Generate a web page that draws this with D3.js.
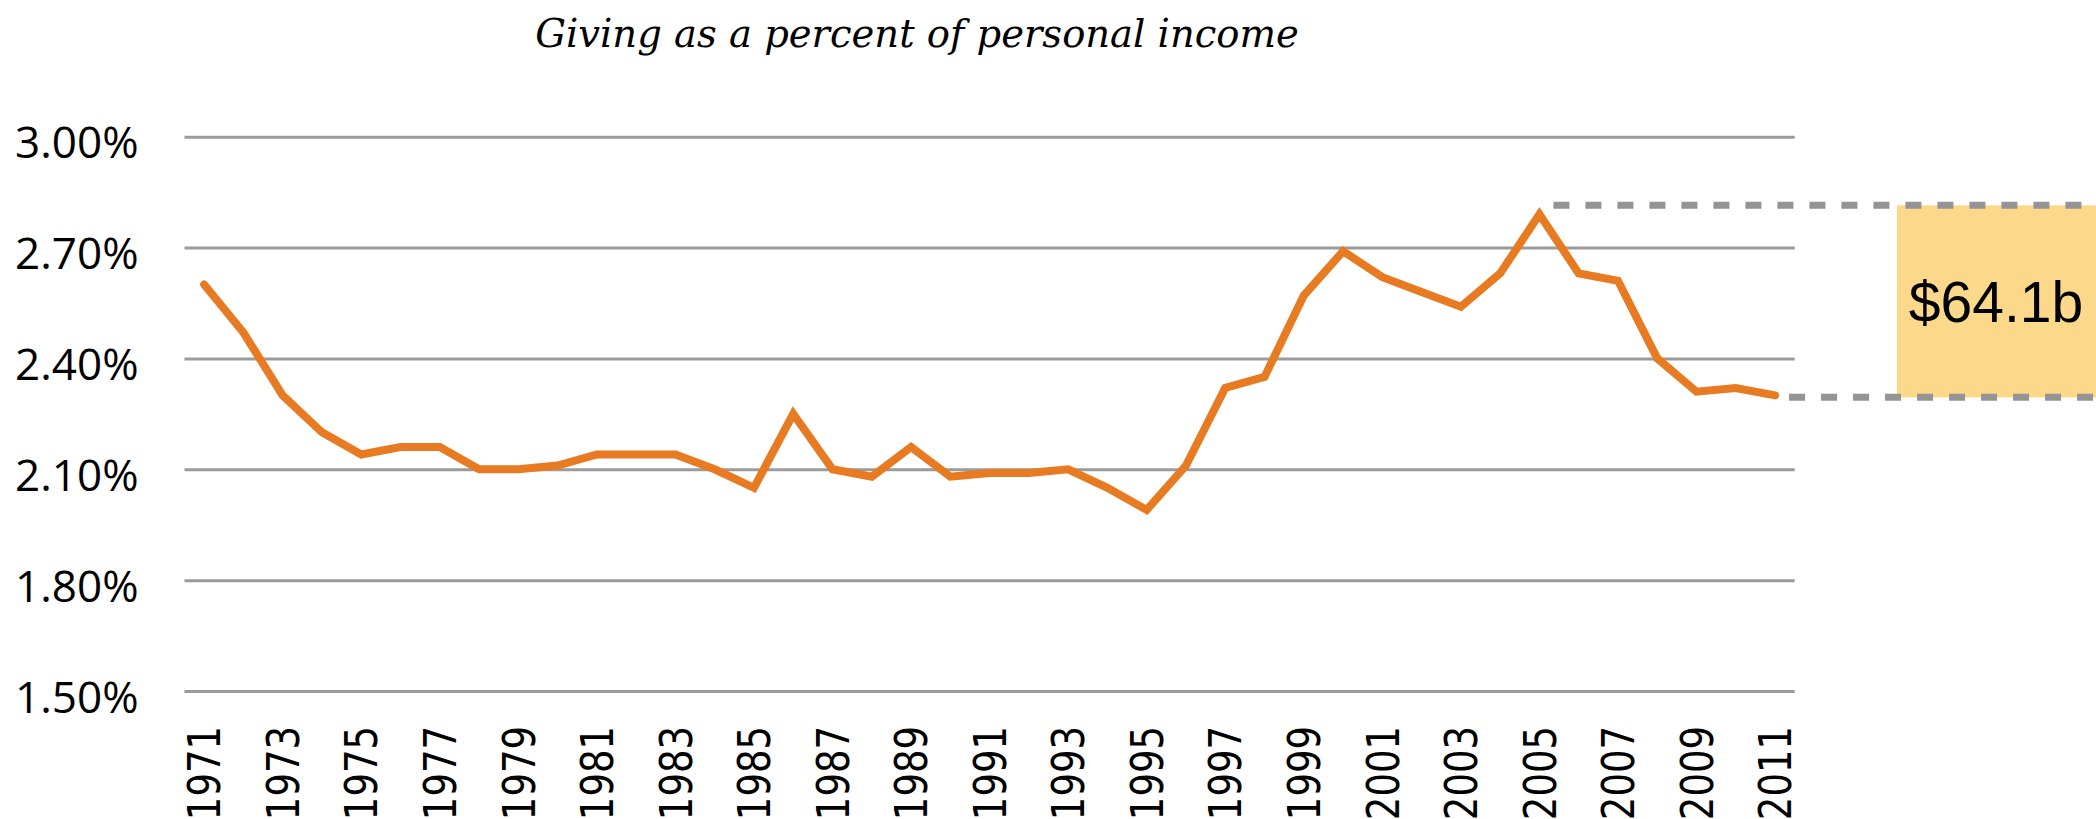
<!DOCTYPE html>
<html>
<head>
<meta charset="utf-8">
<script src="https://cdn.jsdelivr.net/npm/d3@7"></script>
<style>
  body { margin: 0; background: #fff; }
</style>
</head>
<body>
<div id="chart"></div>
<script>
// chart data
var years = d3.range(1971, 2012).map(String);
var giving = [2.60, 2.47, 2.30, 2.20, 2.14, 2.16, 2.16, 2.10, 2.10, 2.11,
              2.14, 2.14, 2.14, 2.10, 2.05, 2.25, 2.10, 2.08, 2.16, 2.08,
              2.09, 2.09, 2.10, 2.05, 1.99, 2.11, 2.32, 2.35, 2.57, 2.69,
              2.62, 2.58, 2.54, 2.63, 2.79, 2.63, 2.61, 2.40, 2.31, 2.32, 2.30];
var yTicks = [1.5, 1.8, 2.1, 2.4, 2.7, 3.0];
var xTickYears = years.filter(function(d, i) { return i % 2 == 0; });
var titleText = "Giving as a percent of personal income";
var gapLabel = "$64.1b";

var data = years.map(function(d, i) { return {year: d, value: giving[i]}; });

// set the dimensions
var W = 2096, H = 819;
var plotLeft = 184.5, plotRight = 1794.7, plotTop = 136.7, plotBottom = 691;

var x = d3.scaleBand().domain(years).range([plotLeft, plotRight]).padding(0);
var y = d3.scaleLinear().domain([1.5, 3.0]).range([plotBottom, plotTop]);
function cx(d) { return x(d) + x.bandwidth() / 2; }

var svg = d3.select("#chart").append("svg")
    .attr("width", W)
    .attr("height", H);

// title
svg.append("text")
    .attr("x", 917)
    .attr("y", 47)
    .attr("text-anchor", "middle")
    .style("font-family", "'DejaVu Serif'")
    .style("font-style", "italic")
    .style("font-size", "38.5px")
    .attr("fill", "#000")
    .text(titleText);

// gridlines + y labels
var yAxis = svg.append("g")
    .attr("transform", "translate(" + plotLeft + ",0)")
    .call(d3.axisLeft(y).tickValues(yTicks)
        .tickSize(-(plotRight - plotLeft))
        .tickPadding(46)
        .tickFormat(function(d) { return d.toFixed(2) + "%"; }));
yAxis.select(".domain").remove();
yAxis.selectAll(".tick line")
    .attr("stroke", "#9b9b9b")
    .attr("stroke-width", 3);
yAxis.selectAll(".tick text")
    .attr("dy", "0.48em")
    .style("font-family", "'Open Sans'")
    .style("font-size", "44px")
    .attr("fill", "#000");

// x labels, rotated (glyphs a bit taller than wide, like the original)
var xAxis = svg.append("g")
    .attr("transform", "translate(0," + plotBottom + ")")
    .call(d3.axisBottom(x).tickValues(xTickYears).tickSize(0).tickPadding(0));
xAxis.select(".domain").remove();
xAxis.selectAll(".tick text")
    .attr("transform", "translate(0,35) rotate(-90) scale(1,1.22)")
    .attr("x", 0)
    .attr("y", 0)
    .attr("dy", "0.36em")
    .attr("text-anchor", "end")
    .style("font-family", "'DejaVu Sans'")
    .style("font-size", "37px")
    .attr("fill", "#000");

// annotation box
var iPeak = d3.maxIndex(giving);
var iLast = giving.length - 1;
var yTopDash = y(giving[iPeak]) - 9;
var yBotDash = y(giving[iLast]) + 2;

svg.append("rect")
    .attr("x", 1897)
    .attr("y", yTopDash)
    .attr("width", W - 1897)
    .attr("height", yBotDash - yTopDash)
    .attr("fill", "#fcd98a");

svg.append("text")
    .attr("x", 1996)
    .attr("y", (yTopDash + yBotDash) / 2 + 21)
    .attr("text-anchor", "middle")
    .style("font-family", "'Liberation Sans'")
    .style("font-size", "57px")
    .attr("fill", "#000")
    .text(gapLabel);

// the line
var valueline = d3.line()
    .x(function(d) { return cx(d.year); })
    .y(function(d) { return y(d.value); });

svg.append("path")
    .datum(data)
    .attr("fill", "none")
    .attr("stroke", "#e87a22")
    .attr("stroke-width", 8)
    .attr("stroke-linejoin", "miter")
    .attr("stroke-linecap", "round")
    .attr("d", valueline);

// dashed guide lines
svg.append("line")
    .attr("x1", cx(years[iPeak]) + 14)
    .attr("x2", W)
    .attr("y1", yTopDash)
    .attr("y2", yTopDash)
    .attr("stroke", "#949494")
    .attr("stroke-width", 7)
    .attr("stroke-dasharray", "16,16");

svg.append("line")
    .attr("x1", cx(years[iLast]) + 14)
    .attr("x2", W)
    .attr("y1", yBotDash)
    .attr("y2", yBotDash)
    .attr("stroke", "#949494")
    .attr("stroke-width", 7)
    .attr("stroke-dasharray", "16,16");
</script>
</body>
</html>
